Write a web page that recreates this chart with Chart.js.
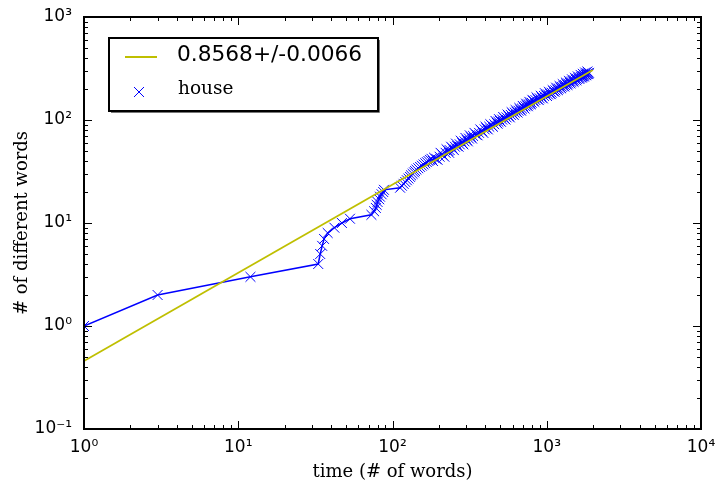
<!DOCTYPE html>
<html>
<head>
<meta charset="utf-8">
<script src="https://cdn.jsdelivr.net/npm/chart.js@4.4.1/dist/chart.umd.min.js"></script>
<style>
  body { margin: 0; background: #fff; }
</style>
</head>
<body>
<canvas id="myChart" width="716" height="483"></canvas>
<script>
// house: time (# of words) and count of different words seen so far
const houseX = [1, 3, 12, 33, 34, 35, 36, 38, 42, 47,
    53, 73, 76, 78, 79, 80, 82, 83, 85, 87,
    88, 112, 115, 118, 121, 124, 127, 130, 132, 135,
    138, 140, 143, 147, 151, 155, 159, 163, 167, 171,
    175, 179,
    183, 186, 192, 196, 202, 205, 211, 217, 221, 224,
    230, 233, 235, 240, 245, 250, 254, 258, 263, 268,
    273, 277, 283, 288, 293, 297, 303, 308, 313, 317,
    323, 328, 333, 340, 349, 356, 364, 371, 380, 388,
    396, 401, 407, 415, 424, 431, 440, 448, 457, 465,
    474, 480, 486, 490, 497, 505, 514, 522, 532, 540,
    549, 557, 567, 576, 585, 592, 602, 611, 620, 628,
    638, 647, 656, 664, 673, 682, 691, 699, 709, 718,
    727, 735, 744, 754, 763, 771, 781, 790, 799, 807,
    817, 831, 845, 858, 873, 887, 901, 915, 930, 944,
    959, 973, 989, 1004, 1019, 1033, 1049, 1063, 1078, 1092,
    1107, 1122, 1137, 1151, 1166, 1181, 1196, 1210, 1226, 1240,
    1255, 1270, 1285, 1300, 1316, 1330, 1346, 1362, 1378, 1394,
    1410, 1426, 1443, 1459, 1476, 1492, 1508, 1524, 1541, 1557,
    1574, 1590, 1608, 1625, 1642, 1658, 1675, 1688, 1701, 1714,
    1726, 1743, 1760, 1775, 1790, 1805, 1820, 1835, 1850, 1865,
    1880];
const houseY = [1, 2, 3, 4, 5, 6, 7, 8, 9, 10,
    11, 12, 13, 14, 15, 16, 17, 18, 19, 20,
    21, 22, 23, 24, 25, 26, 27, 28, 29, 30,
    31, 32, 33, 34, 35, 36, 37, 38, 39, 40,
    41, 42,
    40, 43, 42, 41, 44, 48, 46, 44, 48, 52,
    50, 48, 51, 55, 53, 51, 55, 59, 56, 55,
    58, 63, 60, 58, 62, 67, 64, 62, 66, 71,
    68, 66, 70, 75, 72, 71, 75, 81, 78, 75,
    81, 86, 83, 81, 86, 91, 88, 86, 91, 98,
    94, 92, 96, 102, 98, 96, 101, 107, 103, 101,
    106, 113, 109, 106, 112, 119, 115, 112, 118, 125,
    120, 118, 123, 131, 126, 123, 129, 137, 132, 129,
    136, 144, 139, 136, 142, 150, 144, 142, 147, 157,
    153, 150, 156, 166, 159, 156, 162, 172, 165, 162,
    171, 182, 174, 171, 177, 188, 180, 178, 184, 195,
    190, 188, 194, 206, 198, 195, 202, 214, 206, 203,
    210, 223, 214, 211, 218, 231, 222, 219, 226, 240,
    230, 227, 234, 248, 238, 235, 242, 257, 246, 243,
    250, 265, 254, 251, 258, 274, 262, 258, 265, 281,
    268, 264, 272, 289, 276, 272, 279, 296, 283, 279,
    287];

// power law fit (straight line on log-log), end points
const fitX = [1, 1990];
const fitY = [0.457, 306];

const fitLabel = '0.8568+/-0.0066';
const houseLabel = 'house';

const xTickValues = [1, 10, 100, 1000, 10000];
const xTickLabels = ['10⁰', '10¹', '10²', '10³', '10⁴'];
const yTickValues = [0.1, 1, 10, 100, 1000];
const yTickLabels = ['10⁻¹', '10⁰', '10¹', '10²', '10³'];

const xTitle = 'time (# of words)';
const yTitle = '# of different words';

function sameValue(a, b) {
    return Math.abs(Math.log10(a) - Math.log10(b)) < 1e-6;
}

function labelFor(v, vals, labels) {
    const i = vals.findIndex(t => sameValue(t, v));
    return i >= 0 ? labels[i] : '';
}

// major + minor ticks (1..9 per decade)
function logTicks(min, max) {
    const out = [];
    for (let p = Math.round(Math.log10(min)); p < Math.round(Math.log10(max)); p++) {
        for (let m = 1; m < 10; m++) out.push({ value: m * Math.pow(10, p) });
    }
    out.push({ value: max });
    return out;
}

const tickFont = { family: 'DejaVu Sans', size: 17 };
const titleFont = { family: 'DejaVu Serif', size: 18, lineHeight: 1.2 };

// inward ticks on all four sides, frame and the boxed legend
const frameAndLegend = {
    id: 'frameAndLegend',
    afterDatasetsDraw(chart) {
        const { ctx, chartArea: a, scales } = chart;
        ctx.save();
        ctx.strokeStyle = '#000';
        ctx.lineWidth = 1;
        scales.x.ticks.forEach(t => {
            const px = Math.round(scales.x.getPixelForValue(t.value)) + 0.5;
            const len = xTickValues.some(v => sameValue(v, t.value)) ? 8 : 4;
            ctx.beginPath();
            ctx.moveTo(px, a.bottom); ctx.lineTo(px, a.bottom - len);
            ctx.moveTo(px, a.top); ctx.lineTo(px, a.top + len);
            ctx.stroke();
        });
        scales.y.ticks.forEach(t => {
            const py = Math.round(scales.y.getPixelForValue(t.value)) + 0.5;
            const len = yTickValues.some(v => sameValue(v, t.value)) ? 8 : 4;
            ctx.beginPath();
            ctx.moveTo(a.left, py); ctx.lineTo(a.left + len, py);
            ctx.moveTo(a.right, py); ctx.lineTo(a.right - len, py);
            ctx.stroke();
        });
        ctx.lineWidth = 2;
        ctx.strokeRect(a.left, a.top, a.right - a.left, a.bottom - a.top);

        // legend
        const ds = chart.data.datasets;
        const lx = a.left + 25, ly = a.top + 21, lw = 269, lh = 73;
        ctx.fillStyle = '#fff';
        ctx.fillRect(lx, ly, lw, lh);
        ctx.strokeStyle = '#000';
        ctx.lineWidth = 2;
        ctx.strokeRect(lx, ly, lw, lh);
        ctx.strokeStyle = '#777';
        ctx.lineWidth = 1;
        ctx.beginPath();
        ctx.moveTo(lx + lw + 1.5, ly + 2); ctx.lineTo(lx + lw + 1.5, ly + lh + 1.5);
        ctx.lineTo(lx + 2, ly + lh + 1.5);
        ctx.stroke();

        ctx.strokeStyle = ds[0].borderColor;
        ctx.lineWidth = 2;
        ctx.beginPath();
        ctx.moveTo(lx + 16, ly + 19);
        ctx.lineTo(lx + 48, ly + 19);
        ctx.stroke();

        ctx.strokeStyle = ds[1].borderColor;
        ctx.lineWidth = 1;
        ctx.beginPath();
        ctx.moveTo(lx + 25, ly + 49); ctx.lineTo(lx + 35, ly + 59);
        ctx.moveTo(lx + 35, ly + 49); ctx.lineTo(lx + 25, ly + 59);
        ctx.stroke();

        ctx.fillStyle = '#000';
        ctx.textBaseline = 'middle';
        ctx.textAlign = 'left';
        ctx.font = '21.7px "DejaVu Sans"';
        ctx.fillText(ds[0].label, lx + 68, ly + 17);
        ctx.font = '18.5px "DejaVu Serif"';
        ctx.fillText(ds[1].label, lx + 69, ly + 51);
        ctx.restore();
    }
};

const ctx = document.getElementById('myChart');

new Chart(ctx, {
    type: 'scatter',
    data: {
        datasets: [{
            label: fitLabel,
            data: fitX.map((x, i) => ({ x: x, y: fitY[i] })),
            showLine: true,
            borderColor: '#bfbf00',
            borderWidth: 1.8,
            pointRadius: 0,
            clip: 0
        }, {
            label: houseLabel,
            data: houseX.map((x, i) => ({ x: x, y: houseY[i] })),
            showLine: true,
            borderColor: '#0000ff',
            backgroundColor: '#0000ff',
            borderWidth: 1.5,
            pointStyle: 'crossRot',
            pointRadius: 7,
            pointBorderWidth: 1,
            clip: 0
        }]
    },
    options: {
        responsive: false,
        devicePixelRatio: 1,
        animation: false,
        layout: { padding: { left: 0, right: 15, top: 17, bottom: 0 } },
        plugins: {
            legend: { display: false },
            tooltip: { enabled: false }
        },
        scales: {
            x: {
                type: 'logarithmic',
                position: 'bottom',
                min: 1,
                max: 10000,
                grid: { display: false, drawTicks: false },
                border: { display: false },
                afterBuildTicks: (scale) => { scale.ticks = logTicks(1, 10000); },
                afterFit: (scale) => {
                    scale.height = 54;
                    scale.paddingLeft = 0;
                    scale.paddingRight = 0;
                },
                ticks: {
                    autoSkip: false,
                    maxRotation: 0,
                    padding: 8,
                    color: '#000',
                    font: tickFont,
                    callback: (v) => labelFor(v, xTickValues, xTickLabels)
                },
                title: {
                    display: true,
                    text: xTitle,
                    color: '#000',
                    font: titleFont,
                    padding: { top: 0, bottom: 0 }
                }
            },
            y: {
                type: 'logarithmic',
                position: 'left',
                min: 0.1,
                max: 1000,
                grid: { display: false, drawTicks: false },
                border: { display: false },
                afterBuildTicks: (scale) => { scale.ticks = logTicks(0.1, 1000); },
                afterFit: (scale) => {
                    scale.width = 84;
                    scale.paddingTop = 0;
                    scale.paddingBottom = 0;
                },
                ticks: {
                    autoSkip: false,
                    padding: 12,
                    color: '#000',
                    font: tickFont,
                    callback: (v) => labelFor(v, yTickValues, yTickLabels)
                },
                title: {
                    display: true,
                    text: yTitle,
                    color: '#000',
                    font: titleFont,
                    padding: { top: 12, bottom: 0 }
                }
            }
        }
    },
    plugins: [frameAndLegend]
});
</script>
</body>
</html>
